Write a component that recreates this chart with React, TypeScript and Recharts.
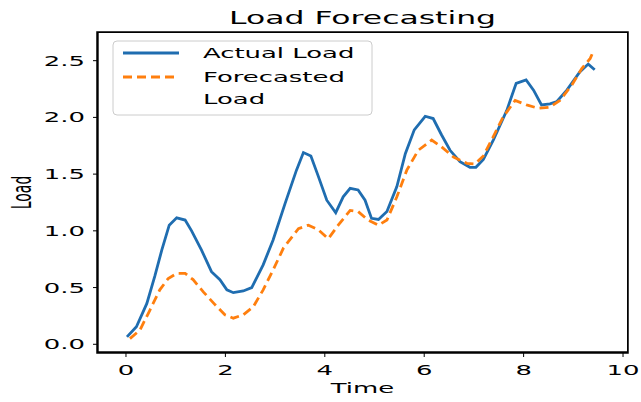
import React from "react";
import { LineChart, Line, XAxis, YAxis } from "recharts";

const timeActual = [
  0.02, 0.21, 0.42, 0.58, 0.72, 0.87, 1.02, 1.19, 1.32, 1.52, 1.72, 1.89, 2.03, 2.16, 2.36, 2.53, 2.76, 2.96,
  3.2, 3.43, 3.57, 3.72, 3.87, 4.04, 4.22, 4.37, 4.51, 4.67, 4.81, 4.94, 5.08, 5.25, 5.45, 5.62, 5.8, 6.02,
  6.18, 6.35, 6.52, 6.72, 6.92, 7.04, 7.19, 7.39, 7.66, 7.85, 8.05, 8.2, 8.36, 8.53, 8.67, 8.87, 9.13, 9.3, 9.43,
];
const loadActual = [
  0.065, 0.155, 0.36, 0.6, 0.83, 1.05, 1.115, 1.095, 1.0, 0.83, 0.64, 0.57, 0.48, 0.455, 0.47, 0.5, 0.7, 0.92,
  1.24, 1.535, 1.69, 1.66, 1.48, 1.27, 1.16, 1.3, 1.375, 1.36, 1.27, 1.11, 1.1, 1.17, 1.39, 1.68, 1.89, 2.01,
  1.99, 1.845, 1.71, 1.61, 1.56, 1.56, 1.63, 1.8, 2.06, 2.3, 2.33, 2.24, 2.11, 2.12, 2.14, 2.24, 2.4, 2.47, 2.42,
];

const timeForecast = [
  0.08, 0.28, 0.48, 0.68, 0.85, 1.02, 1.19, 1.35, 1.56, 1.79, 1.99, 2.16, 2.36, 2.56, 2.76, 2.96, 3.17, 3.47,
  3.67, 3.87, 4.07, 4.27, 4.51, 4.67, 4.87, 5.08, 5.25, 5.45, 5.65, 5.88, 6.15, 6.35, 6.59, 6.86, 7.02, 7.19,
  7.39, 7.59, 7.83, 8.06, 8.3, 8.53, 8.73, 8.97, 9.17, 9.34, 9.39,
];
const loadForecast = [
  0.05, 0.125, 0.3, 0.48, 0.58, 0.625, 0.625, 0.57, 0.46, 0.35, 0.26, 0.23, 0.26, 0.33, 0.48, 0.655, 0.85, 1.02,
  1.05, 1.01, 0.93, 1.05, 1.18, 1.17, 1.095, 1.05, 1.095, 1.3, 1.535, 1.71, 1.8, 1.74, 1.65, 1.595, 1.59, 1.66,
  1.83, 2.005, 2.15, 2.11, 2.08, 2.09, 2.15, 2.285, 2.43, 2.52, 2.57,
];

const xTicks = [0, 2, 4, 6, 8, 10];
const yTicks = [0, 0.5, 1, 1.5, 2, 2.5];

const actualData = timeActual.map((t, i) => ({ t, v: loadActual[i] }));
const forecastData = timeForecast.map((t, i) => ({ t, v: loadForecast[i] }));

const FONT = "DejaVu Sans";
const SX = 1.85; // picture is stretched sideways
const X_DOMAIN = [-0.563, 10.08];
const Y_DOMAIN = [-0.068, 2.744];
const BLUE = "#1f6db0";
const ORANGE = "#ff7f0e";
const SPINE = { stroke: "#000", strokeWidth: 1.4 };

function XTick(props: any) {
  const { x, y, payload } = props;
  return (
    <text transform={`translate(${x},${y + 14}) scale(${SX},1)`} textAnchor="middle" fontSize={14} fontFamily={FONT} fill="#000">
      {payload.value}
    </text>
  );
}

function YTick(props: any) {
  const { x, y, payload } = props;
  return (
    <text transform={`translate(${x},${y + 5}) scale(${SX},1)`} textAnchor="end" fontSize={14} fontFamily={FONT} fill="#000">
      {Number(payload.value).toFixed(1)}
    </text>
  );
}

function Stretched({ x, y, size = 14, anchor = "start", children }: any) {
  return (
    <text transform={`translate(${x},${y}) scale(${SX},1)`} textAnchor={anchor} fontSize={size} fontFamily={FONT} fill="#000">
      {children}
    </text>
  );
}

export default function App() {
  return (
    <div style={{ position: "absolute", left: 0, top: 0, width: 641, height: 402, background: "#fff", boxSizing: "border-box" }}>
      <div
        style={{
          position: "absolute",
          left: 97,
          top: 32,
          width: 531,
          height: 321,
          border: "1.5px solid #000",
          boxSizing: "border-box",
        }}
      />
      <LineChart width={641} height={402} margin={{ top: 33, right: 14, bottom: 0, left: 0 }}>
        <XAxis
          type="number"
          dataKey="t"
          domain={X_DOMAIN}
          ticks={xTicks}
          allowDataOverflow
          height={50}
          tickSize={5}
          tickMargin={4}
          tick={<XTick />}
          axisLine={SPINE}
          tickLine={{ stroke: "#000" }}
        />
        <YAxis
          type="number"
          domain={Y_DOMAIN}
          ticks={yTicks}
          allowDataOverflow
          width={98}
          tickSize={5}
          tickMargin={8}
          tick={<YTick />}
          axisLine={SPINE}
          tickLine={{ stroke: "#000" }}
        />
        <Line
          data={actualData}
          dataKey="v"
          type="linear"
          stroke={BLUE}
          strokeWidth={2.8}
          dot={false}
          isAnimationActive={false}
        />
        <Line
          data={forecastData}
          dataKey="v"
          type="linear"
          stroke={ORANGE}
          strokeWidth={2.8}
          strokeDasharray="9 5"
          dot={false}
          isAnimationActive={false}
        />
      </LineChart>
      <svg width={641} height={402} style={{ position: "absolute", left: 0, top: 0, zIndex: 5, pointerEvents: "none" }}>
        <rect x={97} y={32} width={531} height={321} fill="none" stroke="#000" strokeWidth={1.5} />
        <Stretched x={362.5} y={24} size={17} anchor="middle">Load Forecasting</Stretched>
        <Stretched x={362.5} y={393} anchor="middle">Time</Stretched>
        <text
          transform={`translate(31,192.5) scale(${SX},1) rotate(-90)`}
          textAnchor="middle"
          fontSize={14}
          fontFamily={FONT}
          fill="#000"
        >
          Load
        </text>
        <rect x={113} y={41} width={259} height={74} rx={4} fill="#fff" fillOpacity={0.8} stroke="#cccccc" />
        <line x1={123} y1={53} x2={179} y2={53} stroke={BLUE} strokeWidth={2.8} />
        <line x1={123} y1={77} x2={179} y2={77} stroke={ORANGE} strokeWidth={2.8} strokeDasharray="9 5" />
        <Stretched x={203} y={58}>Actual Load</Stretched>
        <Stretched x={203} y={82}>Forecasted</Stretched>
        <Stretched x={203} y={104}>Load</Stretched>
      </svg>
    </div>
  );
}
